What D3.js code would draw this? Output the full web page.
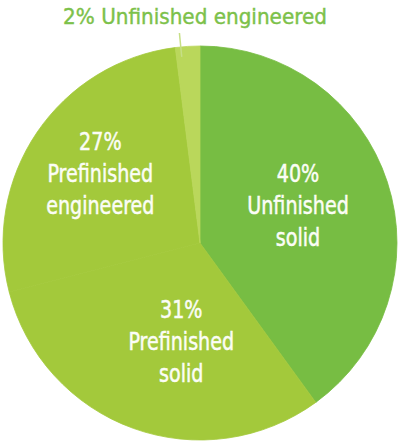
<!DOCTYPE html>
<html>
<head>
<meta charset="utf-8">
<script src="https://cdn.jsdelivr.net/npm/d3@7"></script>
<style>
    html, body { margin: 0; padding: 0; background: #fff; }
    svg { display: block; }
    .slice_label { fill: #fbfdf6; stroke: #fbfdf6; stroke-width: 0.5px; font-family: "DejaVu Sans Condensed", "Liberation Sans Narrow", sans-serif; font-size: 25px; }
    .outer_label { fill: #7cc14a; stroke: #7cc14a; stroke-width: 0.4px; font-family: "DejaVu Sans Condensed", "Liberation Sans Narrow", sans-serif; font-size: 22px; }
</style>
</head>
<body>
<div id="chart"></div>
<script>
//数据
const categories = ["Unfinished solid", "Prefinished solid", "Prefinished engineered", "Unfinished engineered"];
const shares = [40, 31, 27, 2];
const labelLines = [
    ["40%", "Unfinished", "solid"],
    ["31%", "Prefinished", "solid"],
    ["27%", "Prefinished", "engineered"],
    ["2% Unfinished engineered"]
];
const sliceColors = ["#77bd43", "#a3c93b", "#a3c93b", "#bad75b"];

//绘图属性
const width = 400;
const height = 443;
const cx = 200, cy = 243, radius = 197;
const lineHeight = 32;
const squeeze = 0.85; //字体横向压缩

var svg = d3.select("#chart").append("svg")
    .attr("width", width).attr("height", height);

var g_root = svg.append("g")
    .attr("transform", "translate(" + cx + "," + cy + ")");

var pie = d3.pie().sort(null).value(d => d);
var arcs = pie(shares);

var arc = d3.arc().innerRadius(0).outerRadius(radius);

g_root.selectAll(".slice")
    .data(arcs)
    .enter()
    .append("path")
    .attr("class", "slice")
    .attr("d", arc)
    .attr("fill", (d, i) => sliceColors[i])
    .attr("stroke", (d, i) => sliceColors[i])
    .attr("stroke-width", 0.8);

//标签位置微调（角度偏移，半径）
var labelPlace = [
    {da: -3, r: 105},
    {da: -9, r: 100},
    {da: 1, r: 122}
];

arcs.slice(0, 3).forEach(function (d, i) {
    var mid = (d.startAngle + d.endAngle) / 2 + labelPlace[i].da * Math.PI / 180;
    var x = Math.sin(mid) * labelPlace[i].r;
    var y = -Math.cos(mid) * labelPlace[i].r;
    var lines = labelLines[i];
    g_root.append("g")
        .attr("transform", "translate(" + x + "," + y + ") scale(" + squeeze + ",1)")
        .append("text")
        .attr("class", "slice_label")
        .attr("text-anchor", "middle")
        .selectAll("tspan")
        .data(lines)
        .enter()
        .append("tspan")
        .attr("x", 0)
        .attr("y", (l, j) => 9 + (j - 1) * lineHeight)
        .text(l => l);
});

//小扇区的引线和外部标签
var small = arcs[3];
var smallMid = (small.startAngle + small.endAngle) / 2 - 2 * Math.PI / 180;
g_root.append("line")
    .attr("x1", Math.sin(smallMid) * 187)
    .attr("y1", -Math.cos(smallMid) * 187)
    .attr("x2", Math.sin(smallMid) * 211)
    .attr("y2", -Math.cos(smallMid) * 211)
    .attr("stroke", "#c6df86")
    .attr("stroke-width", 1.5);

svg.append("g")
    .attr("transform", "translate(195,24) scale(1.01,1)")
    .append("text")
    .attr("class", "outer_label")
    .attr("text-anchor", "middle")
    .text(labelLines[3][0]);
</script>
</body>
</html>
